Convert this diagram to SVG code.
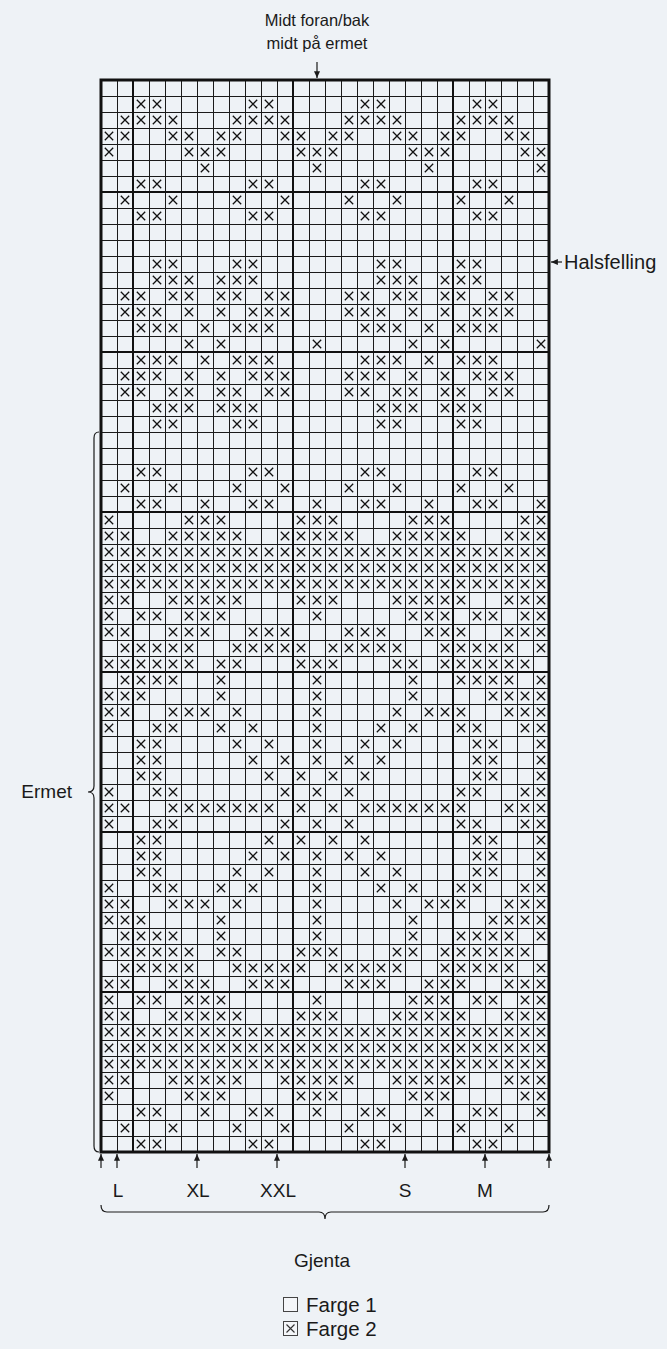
<svg xmlns="http://www.w3.org/2000/svg" width="667" height="1349" viewBox="0 0 667 1349">
<style>
text{font-family:"Liberation Sans",Arial,sans-serif;fill:#1a1a1a}
.t{font-size:16.5px}
.s{font-size:19px}
.h{font-size:20px}
.lg{font-size:20.5px}
.thick{stroke:#111;stroke-width:2;fill:none}
.border{stroke:#111;stroke-width:3;fill:none}
.conn{stroke:#1a1a1a;stroke-width:1.2;fill:none}
.box{fill:#f4f6f9;stroke:#444;stroke-width:1}
</style>
<defs>
<pattern id="xp" x="0" y="0" width="16" height="16" patternUnits="userSpaceOnUse"><path d="M3.8 3.8L12.2 12.2M12.2 3.8L3.8 12.2" stroke="#111" stroke-width="1.3" fill="none"/></pattern>
<pattern id="gp" x="101" y="80" width="16" height="16" patternUnits="userSpaceOnUse"><path d="M0 0.5H16M0.5 0V16" stroke="#1a1a1a" stroke-width="1" fill="none"/></pattern>
<marker id="ah" viewBox="0 0 8 7" refX="8" refY="3.5" markerWidth="7" markerHeight="6" orient="auto" markerUnits="userSpaceOnUse"><path d="M0 0L8 3.5L0 7z" fill="#1a1a1a"/></marker>
<g id="rA" fill="url(#xp)"><rect x="32" width="32" height="16"/><rect x="144" width="32" height="16"/><rect x="256" width="32" height="16"/><rect x="368" width="32" height="16"/></g>
<g id="rB" fill="url(#xp)"><rect x="16" width="64" height="16"/><rect x="128" width="64" height="16"/><rect x="240" width="64" height="16"/><rect x="352" width="64" height="16"/></g>
<g id="rC" fill="url(#xp)"><rect x="0" width="32" height="16"/><rect x="64" width="32" height="16"/><rect x="112" width="32" height="16"/><rect x="176" width="32" height="16"/><rect x="224" width="32" height="16"/><rect x="288" width="32" height="16"/><rect x="336" width="32" height="16"/><rect x="400" width="32" height="16"/></g>
<g id="rD" fill="url(#xp)"><rect x="0" width="16" height="16"/><rect x="80" width="48" height="16"/><rect x="192" width="48" height="16"/><rect x="304" width="48" height="16"/><rect x="416" width="32" height="16"/></g>
<g id="rE" fill="url(#xp)"><rect x="96" width="16" height="16"/><rect x="208" width="16" height="16"/><rect x="320" width="16" height="16"/><rect x="432" width="16" height="16"/></g>
<g id="rF" fill="url(#xp)"><rect x="16" width="16" height="16"/><rect x="64" width="16" height="16"/><rect x="128" width="16" height="16"/><rect x="176" width="16" height="16"/><rect x="240" width="16" height="16"/><rect x="288" width="16" height="16"/><rect x="352" width="16" height="16"/><rect x="400" width="16" height="16"/></g>
<g id="rG" fill="url(#xp)"><rect x="48" width="32" height="16"/><rect x="128" width="32" height="16"/><rect x="272" width="32" height="16"/><rect x="352" width="32" height="16"/></g>
<g id="rH" fill="url(#xp)"><rect x="48" width="48" height="16"/><rect x="112" width="48" height="16"/><rect x="272" width="48" height="16"/><rect x="336" width="48" height="16"/></g>
<g id="rI" fill="url(#xp)"><rect x="16" width="32" height="16"/><rect x="64" width="32" height="16"/><rect x="112" width="32" height="16"/><rect x="160" width="32" height="16"/><rect x="240" width="32" height="16"/><rect x="288" width="32" height="16"/><rect x="336" width="32" height="16"/><rect x="384" width="32" height="16"/></g>
<g id="rJ" fill="url(#xp)"><rect x="16" width="48" height="16"/><rect x="80" width="16" height="16"/><rect x="112" width="16" height="16"/><rect x="144" width="48" height="16"/><rect x="240" width="48" height="16"/><rect x="304" width="16" height="16"/><rect x="336" width="16" height="16"/><rect x="368" width="48" height="16"/></g>
<g id="rK" fill="url(#xp)"><rect x="32" width="48" height="16"/><rect x="96" width="16" height="16"/><rect x="128" width="48" height="16"/><rect x="256" width="48" height="16"/><rect x="320" width="16" height="16"/><rect x="352" width="48" height="16"/></g>
<g id="rL" fill="url(#xp)"><rect x="80" width="16" height="16"/><rect x="112" width="16" height="16"/><rect x="208" width="16" height="16"/><rect x="304" width="16" height="16"/><rect x="336" width="16" height="16"/><rect x="432" width="16" height="16"/></g>
<g id="rM" fill="url(#xp)"><rect x="32" width="32" height="16"/><rect x="96" width="16" height="16"/><rect x="144" width="32" height="16"/><rect x="208" width="16" height="16"/><rect x="256" width="32" height="16"/><rect x="320" width="16" height="16"/><rect x="368" width="32" height="16"/><rect x="432" width="16" height="16"/></g>
<g id="rN" fill="url(#xp)"><rect x="0" width="32" height="16"/><rect x="64" width="80" height="16"/><rect x="176" width="80" height="16"/><rect x="288" width="80" height="16"/><rect x="400" width="48" height="16"/></g>
<g id="rO" fill="url(#xp)"><rect x="0" width="448" height="16"/></g>
<g id="rP" fill="url(#xp)"><rect x="0" width="32" height="16"/><rect x="64" width="80" height="16"/><rect x="192" width="48" height="16"/><rect x="288" width="80" height="16"/><rect x="400" width="48" height="16"/></g>
<g id="rQ" fill="url(#xp)"><rect x="0" width="16" height="16"/><rect x="32" width="32" height="16"/><rect x="80" width="48" height="16"/><rect x="208" width="16" height="16"/><rect x="304" width="48" height="16"/><rect x="368" width="32" height="16"/><rect x="416" width="32" height="16"/></g>
<g id="rR" fill="url(#xp)"><rect x="0" width="32" height="16"/><rect x="64" width="48" height="16"/><rect x="144" width="48" height="16"/><rect x="240" width="48" height="16"/><rect x="320" width="48" height="16"/><rect x="400" width="48" height="16"/></g>
<g id="rS" fill="url(#xp)"><rect x="16" width="80" height="16"/><rect x="128" width="80" height="16"/><rect x="224" width="80" height="16"/><rect x="336" width="80" height="16"/><rect x="432" width="16" height="16"/></g>
<g id="rT" fill="url(#xp)"><rect x="0" width="96" height="16"/><rect x="112" width="32" height="16"/><rect x="192" width="48" height="16"/><rect x="288" width="32" height="16"/><rect x="336" width="96" height="16"/></g>
<g id="rU" fill="url(#xp)"><rect x="16" width="64" height="16"/><rect x="112" width="16" height="16"/><rect x="208" width="16" height="16"/><rect x="304" width="16" height="16"/><rect x="352" width="64" height="16"/><rect x="432" width="16" height="16"/></g>
<g id="rV" fill="url(#xp)"><rect x="0" width="48" height="16"/><rect x="112" width="16" height="16"/><rect x="208" width="16" height="16"/><rect x="304" width="16" height="16"/><rect x="384" width="64" height="16"/></g>
<g id="rW" fill="url(#xp)"><rect x="0" width="32" height="16"/><rect x="64" width="48" height="16"/><rect x="128" width="16" height="16"/><rect x="208" width="16" height="16"/><rect x="288" width="16" height="16"/><rect x="320" width="48" height="16"/><rect x="400" width="48" height="16"/></g>
<g id="rX" fill="url(#xp)"><rect x="0" width="16" height="16"/><rect x="48" width="32" height="16"/><rect x="112" width="16" height="16"/><rect x="144" width="16" height="16"/><rect x="208" width="16" height="16"/><rect x="272" width="16" height="16"/><rect x="304" width="16" height="16"/><rect x="352" width="32" height="16"/><rect x="416" width="32" height="16"/></g>
<g id="rY" fill="url(#xp)"><rect x="32" width="32" height="16"/><rect x="128" width="16" height="16"/><rect x="160" width="16" height="16"/><rect x="208" width="16" height="16"/><rect x="256" width="16" height="16"/><rect x="288" width="16" height="16"/><rect x="368" width="32" height="16"/><rect x="432" width="16" height="16"/></g>
<g id="rZ" fill="url(#xp)"><rect x="32" width="32" height="16"/><rect x="144" width="16" height="16"/><rect x="176" width="16" height="16"/><rect x="208" width="16" height="16"/><rect x="240" width="16" height="16"/><rect x="272" width="16" height="16"/><rect x="368" width="32" height="16"/><rect x="432" width="16" height="16"/></g>
<g id="rAA" fill="url(#xp)"><rect x="32" width="32" height="16"/><rect x="160" width="16" height="16"/><rect x="192" width="16" height="16"/><rect x="224" width="16" height="16"/><rect x="256" width="16" height="16"/><rect x="368" width="32" height="16"/><rect x="432" width="16" height="16"/></g>
<g id="rAB" fill="url(#xp)"><rect x="0" width="16" height="16"/><rect x="48" width="32" height="16"/><rect x="176" width="16" height="16"/><rect x="208" width="16" height="16"/><rect x="240" width="16" height="16"/><rect x="352" width="32" height="16"/><rect x="416" width="32" height="16"/></g>
<g id="rAC" fill="url(#xp)"><rect x="0" width="32" height="16"/><rect x="64" width="112" height="16"/><rect x="192" width="16" height="16"/><rect x="224" width="16" height="16"/><rect x="256" width="112" height="16"/><rect x="400" width="48" height="16"/></g>
</defs>
<rect id="bg" x="0" y="0" width="667" height="1349" fill="#eef2f6"/>
<g id="chart">
<rect x="101" y="80" width="448" height="1072" fill="url(#gp)"/>
<path class="thick" d="M133 80V1152M293 80V1152M453 80V1152M101 192H549M101 352H549M101 512H549M101 672H549M101 832H549M101 992H549"/>
<g id="marks" transform="translate(101,80)">
<use href="#rA" y="16"/><use href="#rB" y="32"/><use href="#rC" y="48"/><use href="#rD" y="64"/><use href="#rE" y="80"/><use href="#rA" y="96"/><use href="#rF" y="112"/><use href="#rA" y="128"/>
<use href="#rG" y="176"/><use href="#rH" y="192"/><use href="#rI" y="208"/><use href="#rJ" y="224"/><use href="#rK" y="240"/><use href="#rL" y="256"/><use href="#rK" y="272"/><use href="#rJ" y="288"/><use href="#rI" y="304"/><use href="#rH" y="320"/><use href="#rG" y="336"/>
<use href="#rA" y="384"/><use href="#rF" y="400"/><use href="#rM" y="416"/><use href="#rD" y="432"/><use href="#rN" y="448"/><use href="#rO" y="464"/><use href="#rO" y="480"/><use href="#rO" y="496"/><use href="#rP" y="512"/><use href="#rQ" y="528"/><use href="#rR" y="544"/><use href="#rS" y="560"/><use href="#rT" y="576"/><use href="#rU" y="592"/><use href="#rV" y="608"/><use href="#rW" y="624"/><use href="#rX" y="640"/><use href="#rY" y="656"/><use href="#rZ" y="672"/><use href="#rAA" y="688"/><use href="#rAB" y="704"/>
<use href="#rAC" y="720"/>
<use href="#rAB" y="736"/><use href="#rAA" y="752"/><use href="#rZ" y="768"/><use href="#rY" y="784"/><use href="#rX" y="800"/><use href="#rW" y="816"/><use href="#rV" y="832"/><use href="#rU" y="848"/><use href="#rT" y="864"/><use href="#rS" y="880"/><use href="#rR" y="896"/><use href="#rQ" y="912"/><use href="#rP" y="928"/><use href="#rO" y="944"/><use href="#rO" y="960"/><use href="#rO" y="976"/><use href="#rN" y="992"/><use href="#rD" y="1008"/><use href="#rM" y="1024"/><use href="#rF" y="1040"/><use href="#rA" y="1056"/>
</g>
<rect class="border" x="101" y="80" width="448" height="1072"/>
</g>
<g id="connectors">
<line class="conn" x1="317" y1="62" x2="317" y2="78" marker-end="url(#ah)"/>
<line class="conn" x1="562" y1="262" x2="551" y2="262" marker-end="url(#ah)"/>
<line class="conn" x1="101" y1="1168" x2="101" y2="1154" marker-end="url(#ah)"/>
<line class="conn" x1="117" y1="1168" x2="117" y2="1154" marker-end="url(#ah)"/>
<line class="conn" x1="197" y1="1168" x2="197" y2="1154" marker-end="url(#ah)"/>
<line class="conn" x1="277" y1="1168" x2="277" y2="1154" marker-end="url(#ah)"/>
<line class="conn" x1="405" y1="1168" x2="405" y2="1154" marker-end="url(#ah)"/>
<line class="conn" x1="485" y1="1168" x2="485" y2="1154" marker-end="url(#ah)"/>
<line class="conn" x1="549" y1="1168" x2="549" y2="1154" marker-end="url(#ah)"/>
<path class="conn" d="M99 432Q94 432 94 438V786Q94 792 88 792Q94 792 94 798V1146Q94 1152 99 1152"/>
<path class="conn" d="M101 1205Q101 1212 107 1212H319Q325 1212 325 1219Q325 1212 331 1212H543Q549 1212 549 1205"/>
</g>
<g id="labels">
<text class="t" x="317" y="26" text-anchor="middle">Midt foran/bak</text>
<text class="t" x="317" y="49" text-anchor="middle">midt på ermet</text>
<text class="h" x="564" y="269">Halsfelling</text>
<text class="s" x="72" y="798" text-anchor="end">Ermet</text>
<text class="s" x="118" y="1197" text-anchor="middle">L</text>
<text class="s" x="198" y="1197" text-anchor="middle">XL</text>
<text class="s" x="278" y="1197" text-anchor="middle">XXL</text>
<text class="s" x="405" y="1197" text-anchor="middle">S</text>
<text class="s" x="485" y="1197" text-anchor="middle">M</text>
<text class="s" x="322" y="1267" text-anchor="middle">Gjenta</text>
</g>
<g id="legend">
<rect class="box" x="283.5" y="1297.5" width="14" height="14"/>
<text class="lg" x="306" y="1312">Farge 1</text>
<rect class="box" x="283.5" y="1321.5" width="14" height="14"/>
<path d="M286.5 1324.5L294.5 1332.5M294.5 1324.5L286.5 1332.5" stroke="#333" stroke-width="1.1" fill="none"/>
<text class="lg" x="306" y="1336">Farge 2</text>
</g>
</svg>
